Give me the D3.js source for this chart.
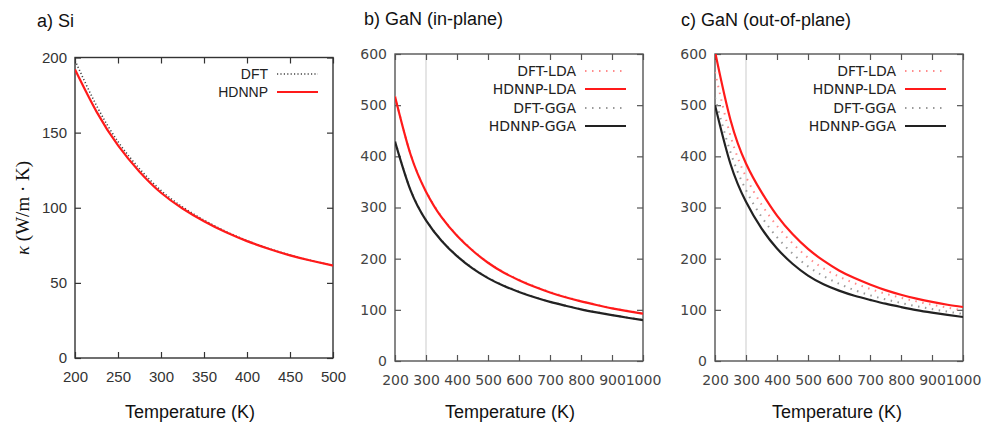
<!DOCTYPE html>
<html>
<head>
<meta charset="utf-8">
<script src="https://cdn.jsdelivr.net/npm/d3@7"></script>
<style>
  body { margin: 0; background: #fff; }
  svg { display: block; }
</style>
</head>
<body>
<div id="chart"></div>
<script>
// ---- data ----
const siTemps = [200, 225, 250, 275, 300, 325, 350, 375, 400, 425, 450, 475, 500];
const siDFT = [198, 168, 144, 126, 111.5, 100.5, 91.8, 84.3, 78.1, 72.9, 68.5, 64.8, 61.6];
const siHDNNP = [192, 164, 141.5, 124, 110, 99.5, 91, 83.8, 77.8, 72.7, 68.3, 64.7, 61.5];

const ganTemps = [200, 250, 300, 350, 400, 450, 500, 550, 600, 650, 700, 750, 800, 850, 900, 950, 1000];
// in-plane
const inDFTLDA = [518, 405, 332, 282, 246, 217, 193, 174, 159, 146, 135, 125.5, 117, 110, 103.5, 98, 93];
const inHDNNPLDA = [517, 404, 331, 281, 245, 216, 192, 173, 158, 145, 134, 124.5, 116.5, 109.5, 103, 97.5, 92.5];
const inDFTGGA = [430, 335, 276, 236, 206, 182, 163, 148, 136, 125, 116, 108.5, 101.5, 95.5, 90, 85, 80.5];
const inHDNNPGGA = [429, 334, 275, 235, 205, 181, 162, 147, 135, 124.5, 115.5, 108, 101, 95, 89.5, 84.5, 80];
// out-of-plane
const outDFTLDA = [565, 440, 360, 306, 264, 230, 202, 181, 165, 152, 141, 131.5, 123.5, 116.5, 110, 104.5, 99];
const outHDNNPLDA = [605, 471, 386, 330, 284, 248, 219, 196, 177, 162, 149.5, 138.5, 129.5, 122, 115.5, 110, 105.5];
const outDFTGGA = [515, 408, 334, 282, 242, 210, 185, 166, 151, 138.5, 128.5, 120.5, 113.5, 107, 101.5, 96.5, 92];
const outHDNNPGGA = [500, 385, 311, 259, 220, 190, 167, 150, 137.5, 127.5, 119.5, 112, 105.5, 99.5, 94.5, 90, 86];

const siXTicks = [200, 250, 300, 350, 400, 450, 500];
const siYTicks = [0, 50, 100, 150, 200];
const ganXTicks = [200, 300, 400, 500, 600, 700, 800, 900, 1000];
const ganYTicks = [0, 100, 200, 300, 400, 500, 600];

const width = 984, height = 425;

const svg = d3.select("#chart")
  .append("svg")
  .attr("width", width)
  .attr("height", height);

// line styles
const styles = {
  dftSi: { stroke: "#444", width: 1.6, dash: "1.2,2.2" },
  dftLDA: { stroke: "#ff8c8c", width: 2, dash: "1.5,5.5" },
  dftGGA: { stroke: "#9a9a9a", width: 2, dash: "1.5,5.5" },
  hdnnpLDA: { stroke: "#ff1a1a", width: 2.2, dash: null },
  hdnnpGGA: { stroke: "#222", width: 2.2, dash: null }
};

const panels = [
  {
    title: "a) Si", titleX: 37, titleY: 27,
    x0: 75, x1: 333, y0: 57.5, y1: 358,
    xDomain: [200, 500], yDomain: [0, 200],
    xTicks: siXTicks, yTicks: siYTicks,
    temps: siTemps,
    font: "Liberation Sans, Arial, sans-serif", tickSize: 15, tickColor: "#333", frame: "#333",
    tickLabelY: 382,
    marker300: false,
    series: [
      { name: "DFT", values: siDFT, style: styles.dftSi },
      { name: "HDNNP", values: siHDNNP, style: styles.hdnnpLDA }
    ],
    legend: { textX: 268, sampleX0: 277, sampleX1: 318, rows: [74, 92], size: 14 },
    xTitleX: 190
  },
  {
    title: "b) GaN (in-plane)", titleX: 364, titleY: 25,
    x0: 395, x1: 643, y0: 54, y1: 361,
    xDomain: [200, 1000], yDomain: [0, 600],
    xTicks: ganXTicks, yTicks: ganYTicks,
    temps: ganTemps,
    font: "DejaVu Sans, Verdana, sans-serif", tickSize: 14, tickColor: "#444", frame: "#555",
    tickLabelY: 385,
    marker300: true,
    series: [
      { name: "DFT-LDA", values: inDFTLDA, style: styles.dftLDA },
      { name: "HDNNP-LDA", values: inHDNNPLDA, style: styles.hdnnpLDA },
      { name: "DFT-GGA", values: inDFTGGA, style: styles.dftGGA },
      { name: "HDNNP-GGA", values: inHDNNPGGA, style: styles.hdnnpGGA }
    ],
    legend: { textX: 576, sampleX0: 585, sampleX1: 626, rows: [71, 89, 108, 126], size: 14 },
    xTitleX: 510
  },
  {
    title: "c) GaN (out-of-plane)", titleX: 681, titleY: 26,
    x0: 715, x1: 963, y0: 54, y1: 361,
    xDomain: [200, 1000], yDomain: [0, 600],
    xTicks: ganXTicks, yTicks: ganYTicks,
    temps: ganTemps,
    font: "DejaVu Sans, Verdana, sans-serif", tickSize: 14, tickColor: "#444", frame: "#555",
    tickLabelY: 385,
    marker300: true,
    series: [
      { name: "DFT-LDA", values: outDFTLDA, style: styles.dftLDA },
      { name: "HDNNP-LDA", values: outHDNNPLDA, style: styles.hdnnpLDA },
      { name: "DFT-GGA", values: outDFTGGA, style: styles.dftGGA },
      { name: "HDNNP-GGA", values: outHDNNPGGA, style: styles.hdnnpGGA }
    ],
    legend: { textX: 896, sampleX0: 905, sampleX1: 946, rows: [71, 89, 108, 126], size: 14 },
    xTitleX: 837
  }
];

/**
 * draws one gnuplot-style panel: frame, inward ticks, curves and legend
 */
function drawPanel(p, idx) {
  const g = svg.append("g");
  const x = d3.scaleLinear().domain(p.xDomain).range([p.x0, p.x1]);
  const y = d3.scaleLinear().domain(p.yDomain).range([p.y1, p.y0]);

  // title
  g.append("text")
    .attr("x", p.titleX).attr("y", p.titleY)
    .attr("font-family", "Liberation Sans, Arial, sans-serif")
    .attr("font-size", 18).attr("fill", "#111")
    .text(p.title);

  // clip for curves
  const clipId = "clip" + idx;
  svg.append("clipPath").attr("id", clipId)
    .append("rect")
    .attr("x", p.x0).attr("y", p.y0)
    .attr("width", p.x1 - p.x0).attr("height", p.y1 - p.y0);

  // 300 K reference line
  if (p.marker300) {
    g.append("line")
      .attr("x1", x(300)).attr("x2", x(300))
      .attr("y1", y(p.yDomain[1])).attr("y2", y(0))
      .attr("stroke", "#d4d4d4").attr("stroke-width", 1.2);
  }

  // axes with inward ticks on all four sides
  const tick = 6;
  const fmt = d3.format("d");
  const axes = [
    { axis: d3.axisBottom(x).tickValues(p.xTicks).tickSize(-tick).tickFormat(fmt), at: [0, p.y1] },
    { axis: d3.axisTop(x).tickValues(p.xTicks).tickSize(-tick).tickFormat(""), at: [0, p.y0] },
    { axis: d3.axisLeft(y).tickValues(p.yTicks).tickSize(-tick).tickFormat(fmt), at: [p.x0, 0] },
    { axis: d3.axisRight(y).tickValues(p.yTicks).tickSize(-tick).tickFormat(""), at: [p.x1, 0] }
  ];
  axes.forEach((a, i) => {
    const ag = g.append("g")
      .attr("transform", "translate(" + a.at[0] + "," + a.at[1] + ")")
      .call(a.axis.tickPadding(8));
    ag.select(".domain").remove();
    ag.selectAll(".tick line").attr("stroke", p.frame).attr("stroke-width", 1.2);
    ag.selectAll(".tick text")
      .attr("font-family", p.font)
      .attr("font-size", p.tickSize)
      .attr("fill", p.tickColor);
    if (i === 0) {
      ag.selectAll(".tick text").attr("y", null).attr("dy", null)
        .attr("y", p.tickLabelY - p.y1);
    }
  });

  // frame
  g.append("rect")
    .attr("x", p.x0).attr("y", p.y0)
    .attr("width", p.x1 - p.x0).attr("height", p.y1 - p.y0)
    .attr("fill", "none").attr("stroke", p.frame).attr("stroke-width", 1.4);

  // curves
  const line = d3.line()
    .x((d) => x(d[0]))
    .y((d) => y(d[1]))
    .curve(d3.curveNatural);

  p.series.forEach((s) => {
    const pts = p.temps.map((t, i) => [t, s.values[i]]);
    g.append("path")
      .datum(pts)
      .attr("clip-path", "url(#" + clipId + ")")
      .attr("d", line)
      .attr("fill", "none")
      .attr("stroke", s.style.stroke)
      .attr("stroke-width", s.style.width)
      .attr("stroke-dasharray", s.style.dash);
  });

  // legend
  p.series.forEach((s, i) => {
    const ly = p.legend.rows[i];
    g.append("text")
      .attr("x", p.legend.textX).attr("y", ly)
      .attr("dy", "0.35em")
      .attr("text-anchor", "end")
      .attr("font-family", p.font)
      .attr("font-size", p.legend.size)
      .attr("fill", "#222")
      .text(s.name);
    g.append("line")
      .attr("x1", p.legend.sampleX0).attr("x2", p.legend.sampleX1)
      .attr("y1", ly).attr("y2", ly)
      .attr("stroke", s.style.stroke)
      .attr("stroke-width", s.style.width)
      .attr("stroke-dasharray", s.style.dash);
  });

  // x axis title
  g.append("text")
    .attr("x", p.xTitleX).attr("y", 418)
    .attr("text-anchor", "middle")
    .attr("font-family", "Liberation Sans, Arial, sans-serif")
    .attr("font-size", 18).attr("fill", "#111")
    .text("Temperature (K)");
}

panels.forEach(drawPanel);

// y axis title (only on the first panel)
const yTitle = svg.append("text")
  .attr("transform", "translate(29,208) rotate(-90)")
  .attr("text-anchor", "middle")
  .attr("font-family", "Liberation Serif, Times New Roman, serif")
  .attr("font-size", 19)
  .attr("fill", "#111");
yTitle.append("tspan").attr("font-style", "italic").text("κ");
yTitle.append("tspan").text(" (W/m · K)");
</script>
</body>
</html>
